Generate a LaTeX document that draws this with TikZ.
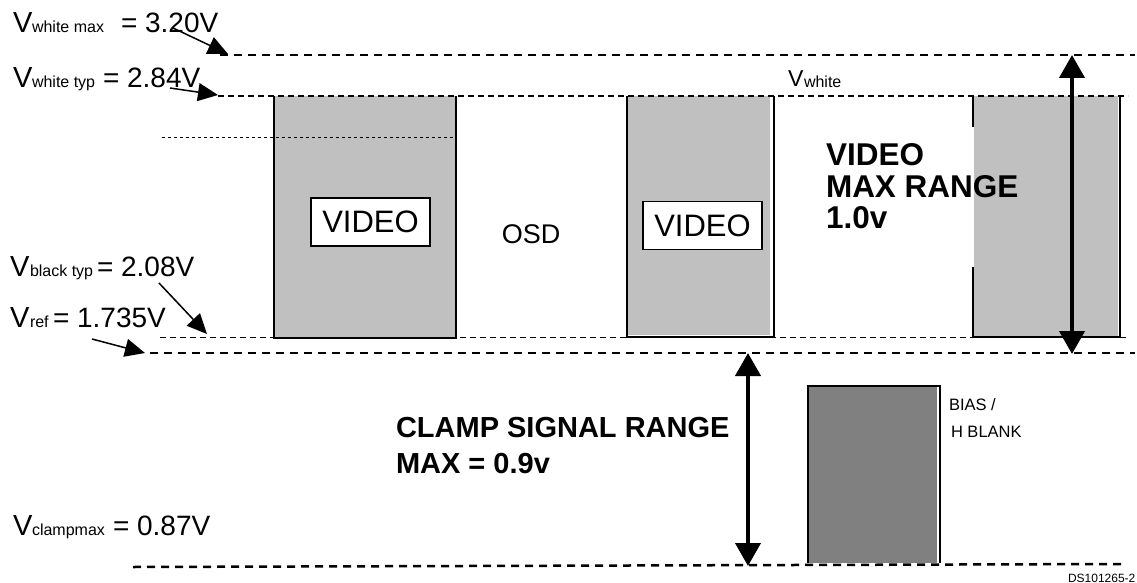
\documentclass[tikz,border=0pt]{standalone}
\usepackage{fontspec}
\setmainfont{Liberation Sans}
\usetikzlibrary{arrows.meta}
\definecolor{lightg}{HTML}{C0C0C0}
\definecolor{darkg}{HTML}{808080}
\newcommand\myfs[1]{\fontsize{#1}{#1}\selectfont}
\tikzset{
  thickdash/.style={line width=2.5pt, dash pattern=on 8pt off 6pt},
  thindash/.style={line width=1.2pt, dash pattern=on 6pt off 4pt},
  finedash/.style={line width=0.9pt, dash pattern=on 3pt off 3pt},
  border/.style={draw=black, line width=1.3pt},
  ptr/.style={line width=1.5pt, -{Triangle[length=20pt,width=18pt]}},
  rangearrow/.style={line width=4pt, {Triangle[length=23pt,width=25pt]}-{Triangle[length=23pt,width=25pt]}},
  lbl/.style={inner sep=0pt, outer sep=0pt, anchor=base west},
  boxtext/.style={draw=black, line width=1.1pt, fill=white, inner sep=0pt, minimum width=119pt, minimum height=48pt, font=\myfs{31}},
}
\begin{document}
\begin{tikzpicture}[x=1pt,y=-1pt]
\useasboundingbox (0,0) rectangle (1137,583);

% ---- bars ----
\fill[lightg] (274,96) rectangle (456,338);
\draw[border] (274,96) -- (274,338) -- (456,338) -- (456,96);
\fill[lightg] (627,96) rectangle (770,335);
\draw[border] (627,96) -- (627,337) -- (774,337) -- (774,96);
\fill[lightg] (974,96) rectangle (1118,336);
\draw[border] (973,96) -- (973,127);
\draw[border] (973,267) -- (973,337) -- (1120,337) -- (1120,96);
\fill[darkg] (808,386) rectangle (937,563);
\draw[border] (808,563) -- (808,386) -- (940,386) -- (940,563);

% ---- level lines ----
\coordinate (l1a) at (220,55);   \coordinate (l1b) at (1135,55);
\coordinate (l2a) at (218,96);   \coordinate (l2b) at (1128,96);
\coordinate (l3a) at (162,137);  \coordinate (l3b) at (457,137);
\coordinate (l4a) at (160,337.5);\coordinate (l4b) at (1128,337.5);
\coordinate (l5a) at (150,353);  \coordinate (l5b) at (1135,353);
\coordinate (l6a) at (133,567);  \coordinate (l6b) at (1122,564);
\draw[thickdash] (l1a) -- (l1b);
\draw[thindash] (l2a) -- (l2b);
\draw[finedash] (l3a) -- (l3b);
\draw[thindash] (l4a) -- (l4b);
\draw[thickdash] (l5a) -- (l5b);
\draw[thickdash] (l6a) -- (l6b);

% ---- inner labels ----
\node[boxtext] (vid1) at (370.5,222) {VIDEO};
\node[boxtext] (vid2) at (702.5,225.5) {VIDEO};
\node[font=\myfs{27}, inner sep=0pt] (osd) at (531,234) {OSD};

% ---- left level labels ----
\node[lbl, font=\myfs{29}] (v1) at (13,33) {V};
\node[lbl, font=\myfs{16}] (v1s) at (32,33) {white max};
\node[lbl, font=\myfs{28}] (v1v) at (121,33) {= 3.20V};
\node[lbl, font=\myfs{29}] (v2) at (13,88) {V};
\node[lbl, font=\myfs{16}] (v2s) at (32,88) {white typ};
\node[lbl, font=\myfs{28}] (v2v) at (103,88) {= 2.84V};
\node[lbl, font=\myfs{29}] (v3) at (10,276) {V};
\node[lbl, font=\myfs{16}] (v3s) at (30,276) {black typ};
\node[lbl, font=\myfs{28}] (v3v) at (97,276) {= 2.08V};
\node[lbl, font=\myfs{29}] (v4) at (10,327) {V};
\node[lbl, font=\myfs{16}] (v4s) at (30,327) {ref};
\node[lbl, font=\myfs{28}] (v4v) at (53,327) {= 1.735V};
\node[lbl, font=\myfs{29}] (v5) at (13,535) {V};
\node[lbl, font=\myfs{16}] (v5s) at (32,535) {clampmax};
\node[lbl, font=\myfs{28}] (v5v) at (113,535) {= 0.87V};

% ---- pointer arrows ----
\coordinate (p1s) at (173,28);  \coordinate (p1e) at (228,54);
\coordinate (p2s) at (170,88);  \coordinate (p2e) at (218,95);
\coordinate (p3s) at (159,283); \coordinate (p3e) at (207,334);
\coordinate (p4s) at (92,339);  \coordinate (p4e) at (145,353);
\draw[ptr] (p1s) -- (p1e);
\draw[ptr] (p2s) -- (p2e);
\draw[ptr] (p3s) -- (p3e);
\draw[ptr] (p4s) -- (p4e);

% ---- V white ----
\node[lbl, font=\myfs{23}] (vw) at (788,87) {V};
\node[lbl, font=\myfs{16}] (vws) at (804,88) {white};

% ---- range texts ----
\node[lbl, font=\myfs{31.5}\bfseries] (vr1) at (826,165) {VIDEO};
\node[lbl, font=\myfs{31.5}\bfseries] (vr2) at (826,197) {MAX RANGE};
\node[lbl, font=\myfs{31.5}\bfseries] (vr3) at (826,228) {1.0v};
\node[lbl, font=\myfs{29}\bfseries] (cr1) at (396,437) {CLAMP SIGNAL RANGE};
\node[lbl, font=\myfs{29}\bfseries] (cr2) at (396,473) {MAX = 0.9v};

% ---- range arrows ----
\coordinate (r1t) at (1072,55);  \coordinate (r1b) at (1072,354);
\coordinate (r2t) at (748,353);  \coordinate (r2b) at (748,566);
\draw[rangearrow] (r1t) -- (r1b);
\draw[rangearrow] (r2t) -- (r2b);

% ---- bias label ----
\node[lbl, font=\myfs{16.5}] (bias) at (949,410) {BIAS /};
\node[lbl, font=\myfs{16.5}] (hblank) at (951,437) {H BLANK};

\node[lbl, font=\myfs{12}] (ds) at (1068,582) {DS101265-2};
\end{tikzpicture}
\end{document}
